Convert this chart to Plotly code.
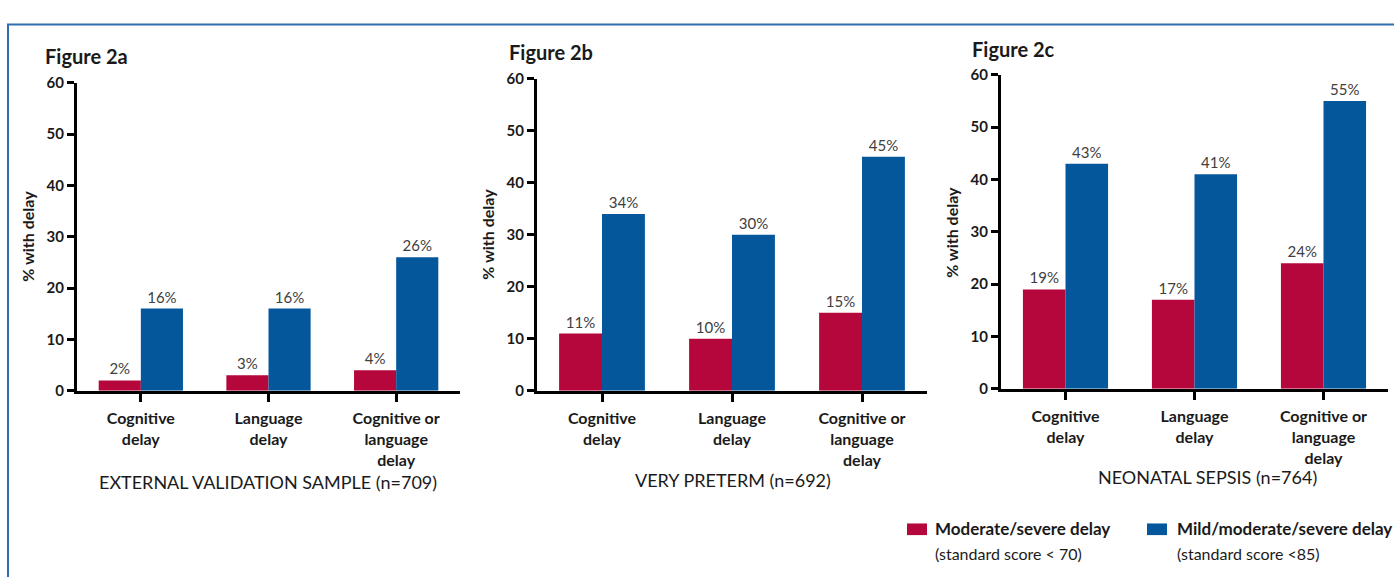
import plotly.graph_objects as go

# ---- data -------------------------------------------------------------
categories = ["Cognitive<br>delay", "Language<br>delay", "Cognitive or<br>language<br>delay"]
panel_titles = ["Figure 2a", "Figure 2b", "Figure 2c"]
panel_samples = ["EXTERNAL VALIDATION SAMPLE (n=709)", "VERY PRETERM (n=692)", "NEONATAL SEPSIS (n=764)"]
moderate_severe = [[2, 3, 4], [11, 10, 15], [19, 17, 24]]
mild_mod_severe = [[16, 16, 26], [34, 30, 45], [43, 41, 55]]
series_names = ["Moderate/severe delay", "Mild/moderate/severe delay"]
series_notes = ["(standard score &lt; 70)", "(standard score &lt;85)"]
y_ticks = [0, 10, 20, 30, 40, 50, 60]

# ---- style ------------------------------------------------------------
W, H = 1394, 577
RED = "#B5073B"
BLUE = "#05579B"
FONT = "Lato"
INK = "#1a1a1a"

# pixel geometry of each panel: (x_left, x_right, y_zero, y_sixty)
panels_px = [(77, 460, 393, 75), (537, 927, 393, 71), (1001, 1388, 391, 67)]
title_px = [(43, 47), (507, 43), (970, 40)]
ytitle_px = [(28, 233), (488, 232), (952, 230)]
sample_px = [(268, 487), (733, 485), (1207, 482)]


def px(x):
    return x / W


def py(y):
    return 1 - y / H


fig = go.Figure()
annotations = []
for i in range(3):
    xa = "x" if i == 0 else f"x{i+1}"
    ya = "y" if i == 0 else f"y{i+1}"
    for vals, color, name in ((moderate_severe[i], RED, series_names[0]),
                              (mild_mod_severe[i], BLUE, series_names[1])):
        fig.add_trace(go.Bar(
            x=[0, 1, 2], y=vals, name=name, xaxis=xa, yaxis=ya,
            marker=dict(color=color, line=dict(width=0)),
            text=[f"{v}%" for v in vals], textposition="outside",
            textfont=dict(family=FONT, size=15, color="#404040"),
            cliponaxis=False, showlegend=False,
        ))
    xl, xr, y0, y60 = panels_px[i]
    sfx = "" if i == 0 else str(i + 1)
    fig.update_layout(**{
        f"xaxis{sfx}": dict(
            domain=[px(xl), px(xr)], range=[-0.5, 2.5], anchor=ya,
            tickvals=[0, 1, 2], ticktext=[f"<b>{c}</b>" for c in categories],
            showline=True, linecolor="black", linewidth=3,
            ticks="outside", ticklen=8, tickwidth=3, tickcolor="black",
            ticklabelstandoff=3,
            showgrid=False, zeroline=False,
            tickfont=dict(family=FONT, size=16, color=INK),
        ),
        f"yaxis{sfx}": dict(
            domain=[py(y0), py(y60)], range=[0, 60], anchor=xa,
            tickvals=y_ticks, ticktext=[f"<b>{t}</b>" for t in y_ticks],
            showline=True, linecolor="black", linewidth=3,
            ticks="outside", ticklen=7, tickwidth=3, tickcolor="black",
            showgrid=False, zeroline=False,
            tickfont=dict(family=FONT, size=15, color=INK),
        ),
    })
    tx, ty = title_px[i]
    annotations.append(dict(x=px(tx), y=py(ty), xref="paper", yref="paper",
                            text=f"<b>{panel_titles[i]}</b>", showarrow=False,
                            xanchor="left", yanchor="middle",
                            font=dict(family=FONT, size=20, color=INK)))
    yx, yy = ytitle_px[i]
    annotations.append(dict(x=px(yx), y=py(yy), xref="paper", yref="paper",
                            text="<b>% with delay</b>", showarrow=False, textangle=-90,
                            xanchor="center", yanchor="middle",
                            font=dict(family=FONT, size=16, color=INK)))
    sx, sy = sample_px[i]
    annotations.append(dict(x=px(sx), y=py(sy), xref="paper", yref="paper",
                            text=panel_samples[i], showarrow=False,
                            xanchor="center", yanchor="middle",
                            font=dict(family=FONT, size=18, color=INK)))

# legend drawn as swatches with two-line captions
shapes = [
    dict(type="rect", xref="paper", yref="paper",
         x0=px(8), x1=px(1420), y0=py(15), y1=py(600),
         line=dict(color="#2F6CB0", width=2), fillcolor="rgba(0,0,0,0)"),
]
legend_px = [(907, 933), (1147, 1175)]
for (sx, tx), color, name, note in zip(legend_px, (RED, BLUE), series_names, series_notes):
    shapes.append(dict(type="rect", xref="paper", yref="paper",
                       x0=px(sx), x1=px(sx + 20), y0=py(542), y1=py(530),
                       fillcolor=color, line=dict(width=0)))
    annotations.append(dict(x=px(tx), y=py(535), xref="paper", yref="paper",
                            text=f"<b>{name}</b>", showarrow=False,
                            xanchor="left", yanchor="middle",
                            font=dict(family=FONT, size=17, color=INK)))
    annotations.append(dict(x=px(tx), y=py(561), xref="paper", yref="paper",
                            text=note, showarrow=False,
                            xanchor="left", yanchor="middle",
                            font=dict(family=FONT, size=16, color=INK)))

fig.update_layout(
    width=W, height=H, margin=dict(l=0, r=0, t=0, b=0),
    paper_bgcolor="white", plot_bgcolor="white",
    barmode="group", bargap=0.34, bargroupgap=0,
    annotations=annotations, shapes=shapes, showlegend=False,
)

fig.write_html("out.html")
